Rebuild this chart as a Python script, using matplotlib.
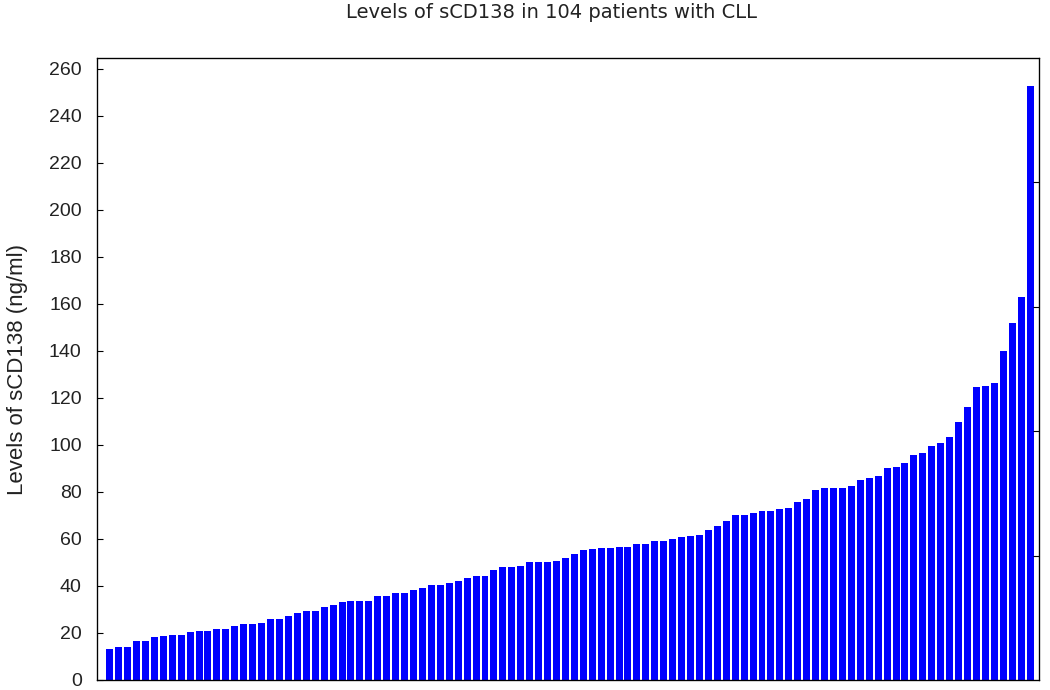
import matplotlib
matplotlib.use("Agg")
import matplotlib.pyplot as plt
import numpy as np

plt.rcParams['font.family'] = ['Liberation Sans', 'DejaVu Sans']

# sCD138 levels (ng/ml), sorted
levels = [13.2, 14.2, 14.2, 16.5, 16.5, 18.2, 18.7, 19.3, 19.3, 20.4, 20.9, 20.9, 21.8, 21.8, 23.0, 23.7, 23.7,
          24.3, 26.1, 26.1, 27.1, 28.4, 29.4, 29.4, 30.9, 31.9, 33.2, 33.7, 33.7, 33.7, 35.9, 35.9, 37.0,
          37.0, 38.2, 39.3, 40.3, 40.3, 41.4, 42.0, 43.5, 44.1, 44.1, 46.9, 48.0, 48.0, 48.5, 50.2, 50.2, 50.2,
          50.6, 51.8, 53.5, 55.2, 55.6, 56.2, 56.2, 56.7, 56.7, 57.9, 57.9, 59.0, 59.0, 60.0, 60.6, 61.1, 61.7,
          63.8, 65.5, 67.7, 70.3, 70.3, 70.9, 72.0, 72.0, 72.6, 73.2, 75.9, 77.0, 80.9, 81.8, 81.8, 81.8, 82.4,
          85.1, 85.8, 86.8, 90.1, 90.6, 92.3, 95.6, 96.6, 99.6, 100.6, 103.4, 109.8, 116.3, 124.7, 125.2, 126.2,
          140.0, 152.0, 163.0, 252.5]
patients = np.arange(1, len(levels) + 1)
yticks = list(range(0, 261, 20))

fig = plt.figure(figsize=(10.5, 6.9), dpi=100)
ax = fig.add_axes([97 / 1050, 1 - 680 / 690, (1039 - 97) / 1050, (680 - 58) / 690])

ax.bar(patients, levels, width=0.78, color='#0000ff', edgecolor='none')

ax.set_xlim(-0.42, 105.0)
ax.set_ylim(0, 264.5)
ax.set_yticks(yticks)
ax.set_xticks([])
ax.tick_params(axis='y', direction='in', length=4, width=0.8, pad=11, labelsize=14, labelcolor='#222222')
for s in ax.spines.values():
    s.set_linewidth(0.9)
    s.set_color('black')

ax.set_ylabel("Levels of sCD138 (ng/ml)", fontsize=16, color='#222222')
ax.yaxis.set_label_coords(-0.073, 0.5)
fig.text(552 / 1050, 1 - 13 / 690, "Levels of sCD138 in 104 patients with CLL", fontsize=14,
         color='#222222', ha='center', va='center', family=['DejaVu Sans'])

# right side ticks split the axis into 5 parts
ax2 = ax.twinx()
ax2.set_ylim(0, 5)
ax2.set_yticks([1, 2, 3, 4])
ax2.set_yticklabels([])
ax2.tick_params(axis='y', direction='in', length=4, width=0.8)

fig.savefig("out.png", dpi=100)
